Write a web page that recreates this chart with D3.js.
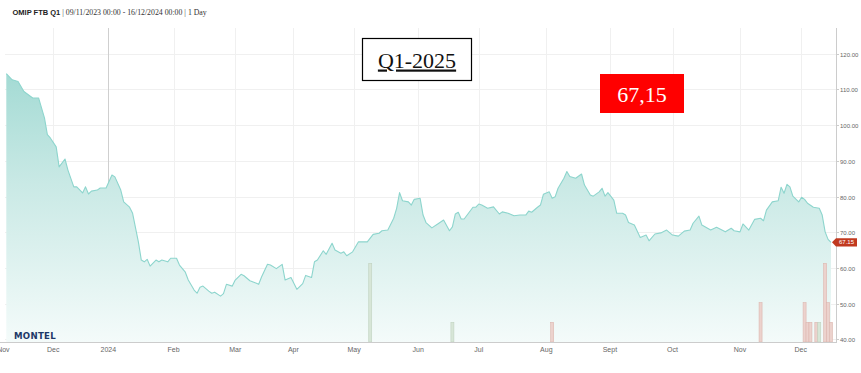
<!DOCTYPE html>
<html>
<head>
<meta charset="utf-8">
<script src="https://cdnjs.cloudflare.com/ajax/libs/d3/7.8.5/d3.min.js"></script>
<style>
  body { margin: 0; background: #fff; }
  svg { display: block; }
</style>
</head>
<body>
<script>
const W = 861, H = 373;

// OMIP FTB Q1-2025 daily closes
const dates = [
  "2023-11-09","2023-11-13","2023-11-15","2023-11-17","2023-11-22","2023-11-24","2023-11-28","2023-11-29","2023-11-30",
  "2023-12-04","2023-12-05","2023-12-07","2023-12-08","2023-12-12","2023-12-13","2023-12-15","2023-12-18","2023-12-19",
  "2023-12-20","2023-12-22","2023-12-27","2023-12-29",
  "2024-01-03","2024-01-04","2024-01-08","2024-01-09","2024-01-11","2024-01-12","2024-01-16","2024-01-17","2024-01-18",
  "2024-01-19","2024-01-22","2024-01-24","2024-01-25","2024-01-26","2024-01-30","2024-01-31",
  "2024-02-02","2024-02-05","2024-02-07","2024-02-08","2024-02-12","2024-02-13","2024-02-14","2024-02-15","2024-02-19",
  "2024-02-20","2024-02-21","2024-02-23","2024-02-26","2024-02-27","2024-02-29",
  "2024-03-01","2024-03-05","2024-03-06","2024-03-08","2024-03-12","2024-03-13","2024-03-14","2024-03-18","2024-03-19",
  "2024-03-21","2024-03-25","2024-03-26","2024-03-28",
  "2024-04-03","2024-04-05","2024-04-08","2024-04-10","2024-04-11","2024-04-12","2024-04-16","2024-04-17","2024-04-19",
  "2024-04-22","2024-04-24","2024-04-25","2024-04-26","2024-04-30",
  "2024-05-03","2024-05-08","2024-05-10","2024-05-14","2024-05-15","2024-05-17","2024-05-21","2024-05-22","2024-05-23",
  "2024-05-24","2024-05-28","2024-05-29","2024-05-30",
  "2024-06-03","2024-06-04","2024-06-05","2024-06-07","2024-06-11","2024-06-13","2024-06-17","2024-06-18","2024-06-19",
  "2024-06-20","2024-06-21","2024-06-24","2024-06-27","2024-06-28",
  "2024-07-01","2024-07-02","2024-07-04","2024-07-08","2024-07-10","2024-07-11","2024-07-15","2024-07-17","2024-07-19",
  "2024-07-23","2024-07-24","2024-07-25","2024-07-29","2024-07-30","2024-07-31",
  "2024-08-02","2024-08-05","2024-08-06","2024-08-07","2024-08-09","2024-08-12","2024-08-13","2024-08-15","2024-08-19",
  "2024-08-20","2024-08-22","2024-08-23","2024-08-27","2024-08-28","2024-08-29","2024-08-30",
  "2024-09-03","2024-09-04","2024-09-06","2024-09-09","2024-09-10","2024-09-12","2024-09-16","2024-09-18","2024-09-19",
  "2024-09-23","2024-09-25","2024-09-27",
  "2024-10-01","2024-10-03","2024-10-07","2024-10-09","2024-10-10","2024-10-14","2024-10-15","2024-10-18","2024-10-22",
  "2024-10-25","2024-10-29","2024-10-30",
  "2024-11-01","2024-11-04","2024-11-06","2024-11-08","2024-11-12","2024-11-13","2024-11-14","2024-11-18","2024-11-20",
  "2024-11-21","2024-11-22","2024-11-25","2024-11-26","2024-11-27","2024-11-29",
  "2024-12-02","2024-12-03","2024-12-04","2024-12-06","2024-12-10","2024-12-11","2024-12-12","2024-12-13","2024-12-16"
];
const prices = [
  114.4,112.7,112.2,109.4,107.6,107.6,102.0,97.3,96.4,
  93.9,88.3,90.5,87.4,82.7,82.7,81.0,82.7,80.7,
  81.5,81.8,82.4,82.4,
  86.0,85.5,81.8,78.5,77.0,75.4,67.3,62.2,61.7,
  62.4,60.5,62.2,61.7,62.2,61.7,62.7,
  62.7,60.8,58.8,56.6,53.8,52.9,54.6,54.9,53.5,
  52.9,53.2,52.1,52.8,55.4,54.9,
  56.6,58.2,57.8,56.4,55.8,55.4,57.5,61.0,60.8,
  59.8,61.0,56.6,57.3,
  54.0,55.6,57.9,57.3,61.7,62.2,64.8,63.8,66.9,
  65.0,64.1,64.5,63.4,64.5,
  67.3,67.3,69.4,69.7,70.4,70.6,73.9,76.7,81.1,
  78.8,78.5,77.6,79.2,
  79.5,74.8,72.7,71.2,72.3,73.4,70.4,71.5,75.1,
  75.6,73.7,73.7,77.0,77.0,
  77.9,77.6,76.7,77.1,75.1,75.7,75.3,74.6,74.8,
  74.8,75.9,75.6,77.0,77.6,80.6,
  81.3,79.5,79.9,82.3,85.1,87.0,85.6,85.1,86.3,
  83.2,80.4,80.1,81.3,82.3,80.1,81.1,
  79.0,75.3,75.3,74.8,72.7,72.0,68.5,69.2,67.6,
  69.5,69.8,70.6,
  69.2,68.9,70.3,70.6,72.5,74.5,72.0,70.6,71.4,
  70.1,71.1,70.4,
  70.1,72.3,70.6,73.6,73.9,73.2,76.2,78.5,78.8,
  82.6,80.9,83.4,82.7,80.1,78.5,
  79.8,79.2,78.1,77.0,76.7,74.8,70.1,68.0,67.15
];

// days with no trading (left out of the ordinal axis)
const holidays = ["2023-12-25","2023-12-26","2024-01-01","2024-03-29","2024-04-01","2024-05-01"];

// traded volume columns
const volDates  = ["2024-05-09","2024-06-18","2024-08-05","2024-11-12","2024-12-03","2024-12-04","2024-12-05",
                   "2024-12-09","2024-12-10","2024-12-12","2024-12-13","2024-12-16"];
const volValues = [20, 5, 5, 10, 10, 5, 5, 5, 5, 20, 10, 5];
const volSide   = ["b","b","s","s","s","s","s","s","b","s","s","s"];

const yTicks = [40, 50, 60, 70, 80, 90, 100, 110, 120];
const monthTicks  = ["2023-11-08","2023-12-01","2024-01-01","2024-02-01","2024-03-01","2024-04-01","2024-05-01",
                     "2024-06-01","2024-07-01","2024-08-01","2024-09-01","2024-10-01","2024-11-01","2024-12-01"];
const monthLabels = ["Nov","Dec","2024","Feb","Mar","Apr","May","Jun","Jul","Aug","Sept","Oct","Nov","Dec"];

const lastPrice = "67.15";
const productLabel = "Q1-2025";
const priceLabel = "67,15";

const parse = d3.utcParse("%Y-%m-%d");
const holidaySet = new Set(holidays);
const first = parse(dates[0]), last = parse(dates[dates.length - 1]);

// trading days = weekdays minus holidays
const tradeDays = d3.utcDay.range(first, d3.utcDay.offset(last, 1))
  .filter(d => d.getUTCDay() !== 0 && d.getUTCDay() !== 6 && !holidaySet.has(d3.utcFormat("%Y-%m-%d")(d)));

const DAY = 864e5;
function ordinal(d) {
  const i = d3.bisectLeft(tradeDays, d);
  if (i < tradeDays.length && +tradeDays[i] === +d) return i;
  if (i === 0) return -(tradeDays[0] - d) / DAY;
  if (i >= tradeDays.length) return tradeDays.length - 1 + (d - tradeDays[tradeDays.length - 1]) / DAY;
  const a = tradeDays[i - 1], b = tradeDays[i];
  return i - 1 + (d - a) / (b - a);
}

const plotTop = 28, plotBottom = 342, plotLeft = 5, plotRight = 836;

const x = d3.scaleLinear().domain([0, tradeDays.length - 1]).range([6.3, 831]);
const y = d3.scaleLinear().domain([40, 120]).range([339.3, 53.7]);
const vy = d3.scaleLinear().domain([0, 20]).range([plotBottom, 263.3]);

const series = dates.map((d, i) => ({ pos: ordinal(parse(d)), v: prices[i] }));

const svg = d3.select("body").append("svg")
  .attr("width", W)
  .attr("height", H)
  .style("font-family", "'Liberation Sans', Arial, sans-serif");

svg.append("rect").attr("width", W).attr("height", H).attr("fill", "#fff");

// header
const head = svg.append("text").attr("x", 12.5).attr("y", 14.5).attr("font-size", 7.5).attr("fill", "#222");
head.append("tspan").attr("font-weight", "bold").text("OMIP FTB Q1");
head.append("tspan").attr("font-family", "'Liberation Serif', serif").attr("font-size", 7.8).attr("fill", "#333")
  .text(" | 09/11/2023 00:00 - 16/12/2024 00:00 | 1 Day");

// horizontal grid
svg.append("g").selectAll("line").data(yTicks).join("line")
  .attr("x1", plotLeft).attr("x2", plotRight)
  .attr("y1", d => Math.round(y(d)) + 0.5).attr("y2", d => Math.round(y(d)) + 0.5)
  .attr("stroke", "#f0f0f0");

// vertical grid on month starts
const monthPos = monthTicks.map(d => x(ordinal(parse(d))));
svg.append("g").selectAll("line").data(monthPos.slice(1)).join("line")
  .attr("x1", d => Math.round(d) + 0.5).attr("x2", d => Math.round(d) + 0.5)
  .attr("y1", plotTop).attr("y2", plotBottom)
  .attr("stroke", (d, i) => monthLabels[i + 1] === "2024" ? "#cfcfcf" : "#f0f0f0");

// area + line
const defs = svg.append("defs");
const grad = defs.append("linearGradient").attr("id", "fillGrad")
  .attr("gradientUnits", "userSpaceOnUse")
  .attr("x1", 0).attr("x2", 0).attr("y1", y(120)).attr("y2", plotBottom);
grad.append("stop").attr("offset", 0).attr("stop-color", "#9dd8d1");
grad.append("stop").attr("offset", 0.45).attr("stop-color", "#c9e9e5");
grad.append("stop").attr("offset", 1).attr("stop-color", "#f4fbfa");

svg.append("path").datum(series)
  .attr("fill", "url(#fillGrad)")
  .attr("d", d3.area().x(d => x(d.pos)).y0(plotBottom).y1(d => y(d.v)));

svg.append("path").datum(series)
  .attr("fill", "none")
  .attr("stroke", "#8dd5cd")
  .attr("stroke-width", 1.1)
  .attr("stroke-linejoin", "round")
  .attr("d", d3.line().x(d => x(d.pos)).y(d => y(d.v)));

// volume columns
svg.append("g").selectAll("rect").data(volDates).join("rect")
  .attr("x", d => x(ordinal(parse(d))) - 1.5)
  .attr("width", 3)
  .attr("y", (d, i) => vy(volValues[i]))
  .attr("height", (d, i) => plotBottom - vy(volValues[i]))
  .attr("fill", (d, i) => volSide[i] === "b" ? "#d7e6d7" : "#ecd2cd")
  .attr("stroke", (d, i) => volSide[i] === "b" ? "#c0d3c0" : "#dcb7b0")
  .attr("stroke-width", 0.6);

// x axis
svg.append("line").attr("x1", 0).attr("x2", plotRight).attr("y1", plotBottom + 0.5).attr("y2", plotBottom + 0.5)
  .attr("stroke", "#cccccc");
svg.append("g").selectAll("text").data(monthPos).join("text")
  .attr("x", d => d)
  .attr("y", 352)
  .attr("text-anchor", "middle")
  .attr("font-size", 7)
  .attr("fill", "#666")
  .text((d, i) => monthLabels[i]);

// right y axis
svg.append("line").attr("x1", plotRight + 0.5).attr("x2", plotRight + 0.5).attr("y1", plotTop).attr("y2", plotBottom + 1)
  .attr("stroke", "#cccccc");
const yAxis = svg.append("g").selectAll("g").data(yTicks).join("g")
  .attr("transform", d => `translate(0,${Math.round(y(d)) + 0.5})`);
yAxis.append("line").attr("x1", plotRight).attr("x2", plotRight + 3).attr("stroke", "#cccccc");
yAxis.append("text").attr("x", plotRight + 4).attr("dy", "0.35em")
  .attr("font-size", 6).attr("fill", "#666")
  .text(d => d3.format(".2f")(d));

// last price flag
const ly = y(prices[prices.length - 1]);
svg.append("path")
  .attr("d", `M${plotRight - 4},${ly} L${plotRight},${ly - 4.2} L${plotRight + 21},${ly - 4.2} L${plotRight + 21},${ly + 4.2} L${plotRight},${ly + 4.2} Z`)
  .attr("fill", "#c1391f");
svg.append("text").attr("x", plotRight + 10.5).attr("y", ly).attr("dy", "0.35em")
  .attr("text-anchor", "middle").attr("font-size", 6).attr("fill", "#fff").text(lastPrice);

// logo
svg.append("text").attr("x", 14).attr("y", 338.5)
  .attr("font-family", "'DejaVu Sans', sans-serif").attr("font-weight", "bold")
  .attr("font-size", 8.6).attr("fill", "#1d3868").attr("letter-spacing", 0.3)
  .text("MONTEL");

// annotations
svg.append("rect").attr("x", 362.5).attr("y", 38.5).attr("width", 109).attr("height", 42)
  .attr("fill", "#fff").attr("stroke", "#000").attr("stroke-width", 1.2);
svg.append("text").attr("x", 417).attr("y", 67.5).attr("text-anchor", "middle")
  .attr("font-family", "'Liberation Serif', serif").attr("font-size", 22)
  .attr("text-decoration", "underline").attr("fill", "#111")
  .text(productLabel);

svg.append("rect").attr("x", 600).attr("y", 74).attr("width", 84).attr("height", 39).attr("fill", "#ff0000");
svg.append("text").attr("x", 642).attr("y", 101.5).attr("text-anchor", "middle")
  .attr("font-family", "'Liberation Serif', serif").attr("font-size", 22).attr("fill", "#fff")
  .text(priceLabel);
</script>
</body>
</html>
